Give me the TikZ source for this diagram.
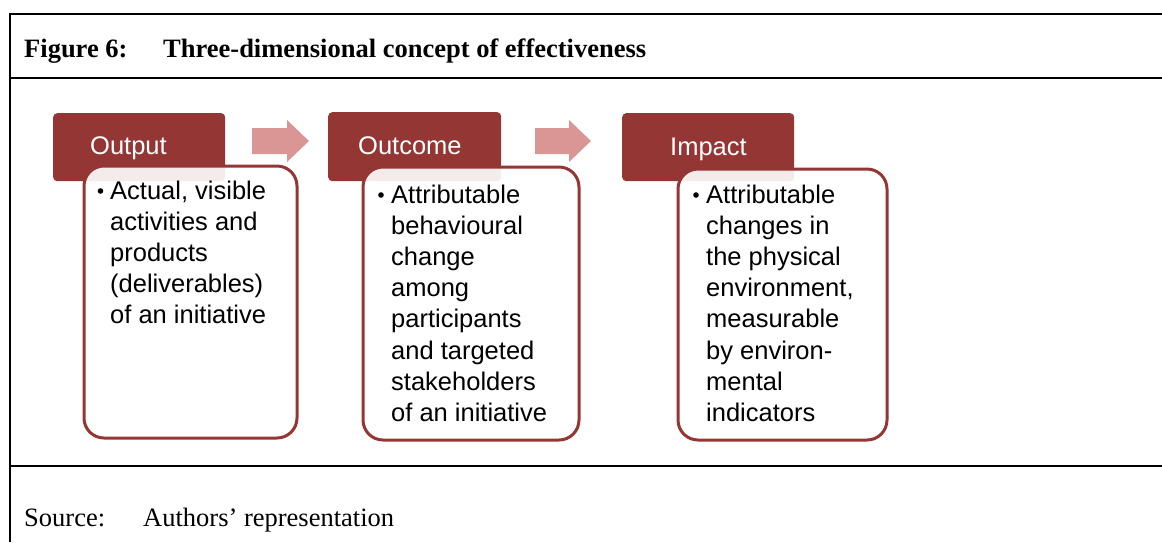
\documentclass[tikz,border=0pt]{standalone}
\usepackage{fontspec}
\setmainfont{Liberation Serif}
\newfontfamily\arialf{Liberation Sans}
\definecolor{darkred}{HTML}{943634}
\definecolor{pinkarrow}{HTML}{D99694}
\newcommand{\bodytext}[1]{\parbox[t]{220pt}{\raggedright\arialf\fontsize{25.5}{31.2}\selectfont #1}}
\tikzset{
  frameline/.style={line width=2pt, black},
  hdrbox/.style={fill=darkred, draw=none, rounded corners=4pt, inner sep=0pt, anchor=north west},
  hdrtext/.style={text=white, font=\arialf\fontsize{25.5}{30}\selectfont, inner sep=0pt, anchor=base west},
  bodybox/.style={draw=darkred, line width=3pt, fill=white, fill opacity=0.9, rounded corners=20pt, inner sep=0pt, anchor=north west},
  bodytxt/.style={inner sep=0pt, anchor=base west},
  bulletdot/.style={fill=black},
  blockarrow/.style={fill=pinkarrow, draw=none},
  captxt/.style={inner sep=0pt, anchor=base west, font=\fontsize{26.5}{30}\selectfont},
  captbold/.style={captxt, font=\bfseries\fontsize{26.5}{30}\selectfont}
}
\begin{document}
\begin{tikzpicture}[x=1pt,y=-1pt]
\useasboundingbox (0,0) rectangle (1162,542);
% frame
\draw[frameline] (10,542) -- (10,14) -- (1162,14);
\draw[frameline] (10,78) -- (1162,78);
\draw[frameline] (10,466) -- (1162,466);
% caption
\node[captbold] (figlbl) at (24,57) {Figure 6:};
\node[captbold] (figttl) at (163,57) {Three-dimensional concept of effectiveness};
\node[captxt] (srclbl) at (24,526) {Source:};
\node[captxt] (srctxt) at (143,526) {Authors’ representation};
% headers
\node[hdrbox, minimum width=172pt, minimum height=68pt] (h1) at (53,113) {};
\node[hdrbox, minimum width=173pt, minimum height=69pt] (h2) at (328,112) {};
\node[hdrbox, minimum width=172pt, minimum height=68pt] (h3) at (622,113) {};
% block arrows
\fill[blockarrow] (252,128) -- (287,128) -- (287,120) -- (309,141) -- (287,162) -- (287,154) -- (252,154) -- cycle;
\fill[blockarrow] (535,128) -- (569,128) -- (569,120) -- (591,141) -- (569,162) -- (569,154) -- (535,154) -- cycle;
% body boxes
\node[bodybox, minimum width=213pt, minimum height=272pt] (b1) at (82.5,164.5) {};
\node[bodybox, minimum width=216pt, minimum height=273pt] (b2) at (361.5,165.5) {};
\node[bodybox, minimum width=209pt, minimum height=271pt] (b3) at (676.5,167.5) {};
% header texts
\node[hdrtext] (t1) at (90,154) {Output};
\node[hdrtext] (t2) at (358,154) {Outcome};
\node[hdrtext] (t3) at (670,155) {Impact};
% bullets
\fill[bulletdot] (100.5,191) circle (2.8pt);
\fill[bulletdot] (381,195) circle (2.8pt);
\fill[bulletdot] (696,195) circle (2.8pt);
% body texts
\node[bodytxt] (x1) at (110,199) {\bodytext{Actual, visible\\activities and\\products\\(deliverables)\\of an initiative}};
\node[bodytxt] (x2) at (391,203) {\bodytext{Attributable\\behavioural\\change\\among\\participants\\and targeted\\stakeholders\\of an initiative}};
\node[bodytxt] (x3) at (706,203) {\bodytext{Attributable\\changes in\\the physical\\environment,\\measurable\\by environ-\\mental\\indicators}};
\end{tikzpicture}
\end{document}
